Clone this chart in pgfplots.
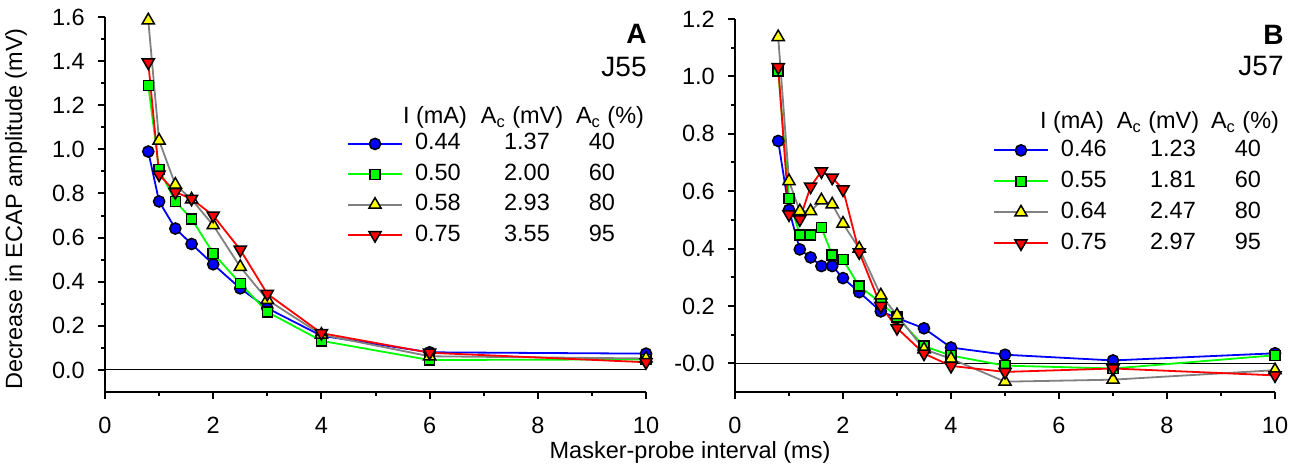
\documentclass[border=0pt]{standalone}
\usepackage{pgfplots}
\pgfplotsset{compat=1.18}
\usepackage{fontspec}
\setmainfont{Liberation Sans}

\definecolor{cblue}{RGB}{0,0,255}
\definecolor{cgreen}{RGB}{0,255,0}
\definecolor{cgray}{RGB}{128,128,128}
\definecolor{cyellow}{RGB}{255,255,0}
\definecolor{cred}{RGB}{255,0,0}

% legend sample: a thin filled bar in the given colour, the series' mark in its middle
\newcommand{\legline}[1]{%
  \fill[#1,draw=none] (0pt,-0.45pt) rectangle (27pt,0.45pt);
  \path plot coordinates {(13.5pt,0pt)};}

\pgfplotsset{
  panel/.style={
    scale only axis, anchor=south west,
    axis x line*=bottom, axis y line*=left,
    axis line style={line width=1pt,-},
    tick align=outside,
    major tick length=3.5pt, minor tick length=2pt,
    every tick/.style={black,line width=1pt},
    xmin=0, xmax=10, xtick={0,2,4,6,8,10}, minor xtick={1,3,5,7,9},
    /pgf/number format/assume math mode=true,
    xticklabel style={yshift=-5pt},
    yticklabel style={xshift=-2.5pt},
    clip=false,
    legend cell align=left,
    legend style={draw=none, fill=none, inner sep=0pt, outer sep=0pt,
      anchor=north west, column sep=6.5pt,
      nodes={inner sep=0pt, text height=9pt, text depth=3pt}},
  },
  sblue/.style={cblue, line width=0.9pt, mark=*, mark size=2.8pt,
    mark options={fill=cblue, draw=black, line width=0.75pt},
    legend image code/.code={\legline{cblue}}},
  sgreen/.style={cgreen, line width=0.9pt, mark=square*, mark size=2.5pt,
    mark options={fill=cgreen, draw=black, line width=0.75pt},
    legend image code/.code={\legline{cgreen}}},
  syellow/.style={cgray, line width=0.9pt, mark=triangle*, mark size=3.5pt,
    mark options={fill=cyellow, draw=black, line width=0.75pt},
    legend image code/.code={\legline{cgray}}},
  sred/.style={cred, line width=0.9pt, mark=triangle*, mark size=3.5pt,
    mark options={fill=cred, draw=black, line width=0.75pt, rotate=180},
    legend image code/.code={\legline{cred}}},
  zero/.style={black, line width=0.5pt, forget plot},
}

\newcommand{\row}[3]{\makebox[37.5pt][l]{#1}\makebox[37pt][c]{#2}\makebox[38pt][c]{#3}}

\begin{document}
\fontsize{11.75}{14}\selectfont
\begin{tikzpicture}

% panel A
\begin{axis}[panel, at={(52.5pt,-196pt)}, width=270.5pt, height=187.5pt,
  ymin=-0.1, ymax=1.6,
  ytick={0,0.2,0.4,0.6,0.8,1.0,1.2,1.4,1.6},
  yticklabels={0.0,0.2,0.4,0.6,0.8,1.0,1.2,1.4,1.6},
  minor ytick={0.1,0.3,0.5,0.7,0.9,1.1,1.3,1.5},
  legend style={at={(0.4492,0.6936)}, row sep=3.2pt},
]
\addplot[zero] coordinates {(0,0) (10,0)};
\addplot[sblue] coordinates {(0.8,0.99) (1.0,0.764) (1.3,0.641) (1.6,0.571) (2.0,0.479) (2.5,0.37) (3.0,0.28) (4.0,0.155) (6.0,0.08) (10.0,0.074)};
\addlegendentry{\row{0.44}{1.37}{40}}
\addplot[sgreen] coordinates {(0.8,1.29) (1.0,0.909) (1.3,0.764) (1.6,0.685) (2.0,0.529) (2.5,0.392) (3.0,0.263) (4.0,0.132) (6.0,0.045) (10.0,0.048)};
\addlegendentry{\row{0.50}{2.00}{60}}
\addplot[syellow] coordinates {(0.8,1.585) (1.0,1.04) (1.3,0.84) (1.6,0.773) (2.0,0.656) (2.5,0.467) (3.0,0.318) (4.0,0.16) (6.0,0.062) (10.0,0.052)};
\addlegendentry{\row{0.58}{2.93}{80}}
\addplot[sred] coordinates {(0.8,1.394) (1.0,0.886) (1.3,0.806) (1.6,0.776) (2.0,0.70) (2.5,0.545) (3.0,0.345) (4.0,0.167) (6.0,0.078) (10.0,0.035)};
\addlegendentry{\row{0.75}{3.55}{95}}
\end{axis}

% panel B
\begin{axis}[panel, at={(367.5pt,-196pt)}, width=270pt, height=186.5pt,
  ymin=-0.1, ymax=1.2,
  ytick={0,0.2,0.4,0.6,0.8,1.0,1.2},
  yticklabels={-0.0,0.2,0.4,0.6,0.8,1.0,1.2},
  minor ytick={0.1,0.3,0.5,0.7,0.9,1.1},
  legend style={at={(0.4796,0.6800)}, row sep=3.5pt},
]
\addplot[zero] coordinates {(0,0) (10,0)};
\addplot[sblue] coordinates {(0.8,0.775) (1.0,0.535) (1.2,0.397) (1.4,0.369) (1.6,0.339) (1.8,0.339) (2.0,0.297) (2.3,0.248) (2.7,0.181) (3.0,0.158) (3.5,0.122) (4.0,0.055) (5.0,0.03) (7.0,0.01) (10.0,0.035)};
\addlegendentry{\row{0.46}{1.23}{40}}
\addplot[sgreen] coordinates {(0.8,1.018) (1.0,0.574) (1.2,0.447) (1.4,0.447) (1.6,0.473) (1.8,0.377) (2.0,0.361) (2.3,0.269) (2.7,0.211) (3.0,0.161) (3.5,0.06) (4.0,0.027) (5.0,-0.008) (7.0,-0.018) (10.0,0.028)};
\addlegendentry{\row{0.55}{1.81}{60}}
\addplot[syellow] coordinates {(0.8,1.137) (1.0,0.635) (1.2,0.53) (1.4,0.53) (1.6,0.568) (1.8,0.554) (2.0,0.487) (2.3,0.40) (2.7,0.237) (3.0,0.168) (3.5,0.049) (4.0,0.016) (5.0,-0.064) (7.0,-0.057) (10.0,-0.024)};
\addlegendentry{\row{0.64}{2.47}{80}}
\addplot[sred] coordinates {(0.8,1.032) (1.0,0.519) (1.2,0.502) (1.4,0.616) (1.6,0.669) (1.8,0.647) (2.0,0.606) (2.3,0.387) (2.7,0.20) (3.0,0.123) (3.5,0.034) (4.0,-0.009) (5.0,-0.03) (7.0,-0.018) (10.0,-0.042)};
\addlegendentry{\row{0.75}{2.97}{95}}
\end{axis}

% headers and panel labels, in pixel units of the reference
\begin{scope}[x=0.5pt,y=-0.5pt]
\node[anchor=base] at (435,123.4) {I (mA)};
\node[anchor=base] at (522,123.4) {A\textsubscript{c} (mV)};
\node[anchor=base] at (610,123.4) {A\textsubscript{c} (\%)};
\node[anchor=base] at (1072,128.4) {I (mA)};
\node[anchor=base] at (1158,128.4) {A\textsubscript{c} (mV)};
\node[anchor=base] at (1245,128.4) {A\textsubscript{c} (\%)};
\node[anchor=base east, inner sep=0pt, font=\fontsize{14}{16}\selectfont\bfseries] at (647,43) {A};
\node[anchor=base east, inner sep=0pt, font=\fontsize{14}{16}\selectfont] at (647,76) {J55};
\node[anchor=base east, inner sep=0pt, font=\fontsize{14}{16}\selectfont\bfseries] at (1284,44) {B};
\node[anchor=base east, inner sep=0pt, font=\fontsize{14}{16}\selectfont] at (1284,75) {J57};
\node[rotate=90] at (16,209) {Decrease in ECAP amplitude (mV)};
\node at (690,452) {Masker-probe interval (ms)};
\pgfresetboundingbox
\useasboundingbox (0,0) rectangle (1301,467);
\end{scope}
\end{tikzpicture}
\end{document}
